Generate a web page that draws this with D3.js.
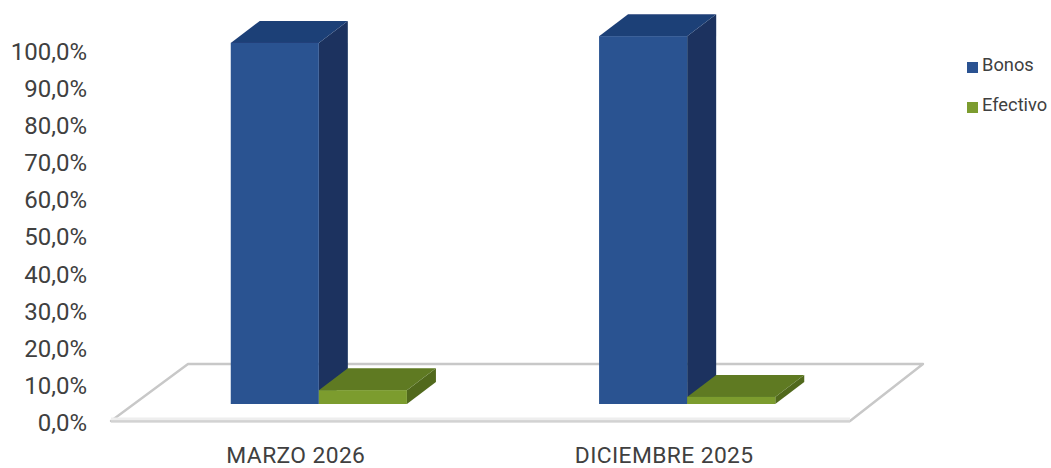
<!DOCTYPE html>
<html><head><meta charset="utf-8">
<script src="https://cdn.jsdelivr.net/npm/d3@7"></script>
<style>
html,body{margin:0;padding:0;background:#fff}
svg{display:block}
text{font-family:Roboto,sans-serif;fill:#404040}
</style></head><body>
<svg id="c" width="1051" height="468"></svg>
<script>
const categories = ["MARZO 2026","DICIEMBRE 2025"];
const seriesNames = ["Bonos","Efectivo"];
const bonos = [96.3,98.1];
const efectivo = [3.7,1.9];
const yTicks = [0,10,20,30,40,50,60,70,80,90,100];
const colors = {Bonos:{front:"#2a5291",top:"#1f3f77",side:"#1a335f"},
                Efectivo:{front:"#7c9c2f",top:"#5e7a24",side:"#51691f"}};

const svg = d3.select("#c");
const defs = svg.append("defs");
const soft = defs.append("filter").attr("id","soft")
  .attr("filterUnits","userSpaceOnUse").attr("x",0).attr("y",0).attr("width",1051).attr("height",468);
soft.append("feGaussianBlur").attr("stdDeviation",0.6);

const yAxisScale = d3.scaleLinear().domain([0,100]).range([422,51]);
const yBar = d3.scaleLinear().domain([0,100]).range([404,29]);
const x0 = d3.scaleBand().domain(categories).range([135,871]).paddingInner(0.5217).paddingOuter(0.26);
const x1 = d3.scaleBand().domain(seriesNames).range([0,x0.bandwidth()]);
const dx = 29, dy = -22;

// floor
const floor = svg.append("g").attr("filter","url(#soft)");
const fl = {fl:[111,421],bl:[188,364],br:[923,364],fr:[850,421]};
floor.append("path").attr("d",d3.line()([fl.fl,fl.bl,fl.br,fl.fr])+"Z")
  .attr("fill","#fff").attr("stroke","#c8c8c8").attr("stroke-width",2.4).attr("stroke-linejoin","round");
floor.append("rect").attr("x",111).attr("y",417.5).attr("width",739).attr("height",3).attr("fill","#eeeeee");
floor.append("rect").attr("x",111).attr("y",420.5).attr("width",739).attr("height",2).attr("fill","#d2d2d2");

// bars
const marks = [];
categories.forEach((c,i)=>{
  marks.push({cat:c,name:"Bonos",value:bonos[i]});
  marks.push({cat:c,name:"Efectivo",value:efectivo[i]});
});
const bars = svg.append("g").attr("filter","url(#soft)").selectAll("g").data(marks).join("g");
function geom(d){
  const l = x0(d.cat)+x1(d.name), r = l+x1.bandwidth(), t = yBar(d.value), b = yBar(0);
  return {l,r,t,b};
}
bars.append("path").attr("d",d=>{const g=geom(d);
  return d3.line()([[g.r,g.t],[g.r+dx,g.t+dy],[g.r+dx,g.b+dy],[g.r,g.b]])+"Z";})
  .attr("fill",d=>colors[d.name].side);
bars.append("path").attr("d",d=>{const g=geom(d);
  return d3.line()([[g.l,g.t],[g.l+dx,g.t+dy],[g.r+dx,g.t+dy],[g.r,g.t]])+"Z";})
  .attr("fill",d=>colors[d.name].top);
bars.append("rect").attr("x",d=>geom(d).l).attr("y",d=>geom(d).t)
  .attr("width",x1.bandwidth()).attr("height",d=>geom(d).b-geom(d).t)
  .attr("fill",d=>colors[d.name].front);

// axes
const yG = svg.append("g").attr("transform","translate(87,0.8)")
  .call(d3.axisLeft(yAxisScale).tickValues(yTicks).tickSize(0).tickPadding(0)
    .tickFormat(v=>d3.format(".1f")(v).replace(".",",")+"%"));
yG.select(".domain").remove();
yG.selectAll("text").attr("font-size",24).attr("fill","#404040").style("font-family","Roboto,sans-serif");

const xG = svg.append("g").attr("transform","translate(-23,447)")
  .call(d3.axisBottom(x0).tickSize(0).tickPadding(0));
xG.select(".domain").remove();
xG.selectAll("text").attr("font-size",22.8).attr("letter-spacing","0.4px").attr("fill","#404040").style("font-family","Roboto,sans-serif");

// legend
const legendY = d3.scalePoint().domain(seriesNames).range([67.5,107.5]);
const lg = svg.append("g").selectAll("g").data(seriesNames).join("g")
  .attr("transform",d=>`translate(967,${legendY(d)})`);
lg.append("rect").attr("x",0).attr("y",-5.5).attr("width",11).attr("height",11).attr("fill",d=>colors[d].front);
lg.append("text").attr("x",15).attr("y",3).attr("font-size",18.3).text(d=>d);
</script>
</body></html>
